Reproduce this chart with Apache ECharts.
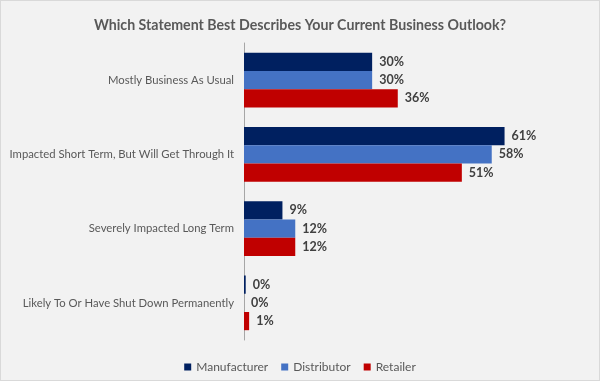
<!DOCTYPE html>
<html>
<head>
<meta charset="utf-8">
<script src="https://cdn.jsdelivr.net/npm/echarts@6/dist/echarts.min.js"></script>
<style>
html,body{margin:0;padding:0;background:#F2F2F2;}
#c{width:598px;height:379px;border:1px solid #D9D9D9;}
</style>
</head>
<body>
<div id="c"></div>
<script>
const categories = ["Mostly Business As Usual", "Impacted Short Term, But Will Get Through It", "Severely Impacted Long Term", "Likely To Or Have Shut Down Permanently"];
const manufacturer = [30, 61, 9, 0.4];
const distributor = [30, 58, 12, 0];
const retailer = [36, 51, 12, 1.2];
const seriesNames = ["Manufacturer", "Distributor", "Retailer"];
const colors = ["#002060", "#4472C4", "#C00000"];

const chart = echarts.init(document.getElementById('c'), null, {renderer: 'canvas'});
const font = 'Lato';
const mk = (name, data, color) => ({
  name: name, type: 'bar', data: data, barGap: '0%', barCategoryGap: '26.4%',
  itemStyle: {color: color},
  label: {show: true, position: 'right', distance: 7, formatter: p => Math.round(p.value) + '%',
    color: '#404040', fontWeight: 'bold', fontSize: 12.5, fontFamily: font}
});
chart.setOption({
  backgroundColor: '#F2F2F2',
  animation: false,
  title: {text: 'Which Statement Best Describes Your Current Business Outlook?', left: 'center', top: 12,
    textStyle: {color: '#595959', fontSize: 14.2, fontWeight: 'bold', fontFamily: font}},
  legend: {top: 355, left: 'center', itemWidth: 7, itemHeight: 7, itemGap: 13, icon: 'rect',
    textStyle: {color: '#595959', fontSize: 12, fontFamily: font}, data: seriesNames},
  grid: {left: 243, top: 42, width: 299, height: 297, containLabel: false, outerBoundsMode: 'none'},
  xAxis: {type: 'value', min: 0, max: 70, show: false},
  yAxis: {type: 'category', data: categories, inverse: true,
    axisLine: {show: true, lineStyle: {color: '#A6A6A6', width: 1}},
    axisTick: {show: false},
    axisLabel: {color: '#595959', fontSize: 11.3, fontFamily: font, margin: 10}},
  series: [mk(seriesNames[0], manufacturer, colors[0]), mk(seriesNames[1], distributor, colors[1]), mk(seriesNames[2], retailer, colors[2])]
});
</script>
</body>
</html>
